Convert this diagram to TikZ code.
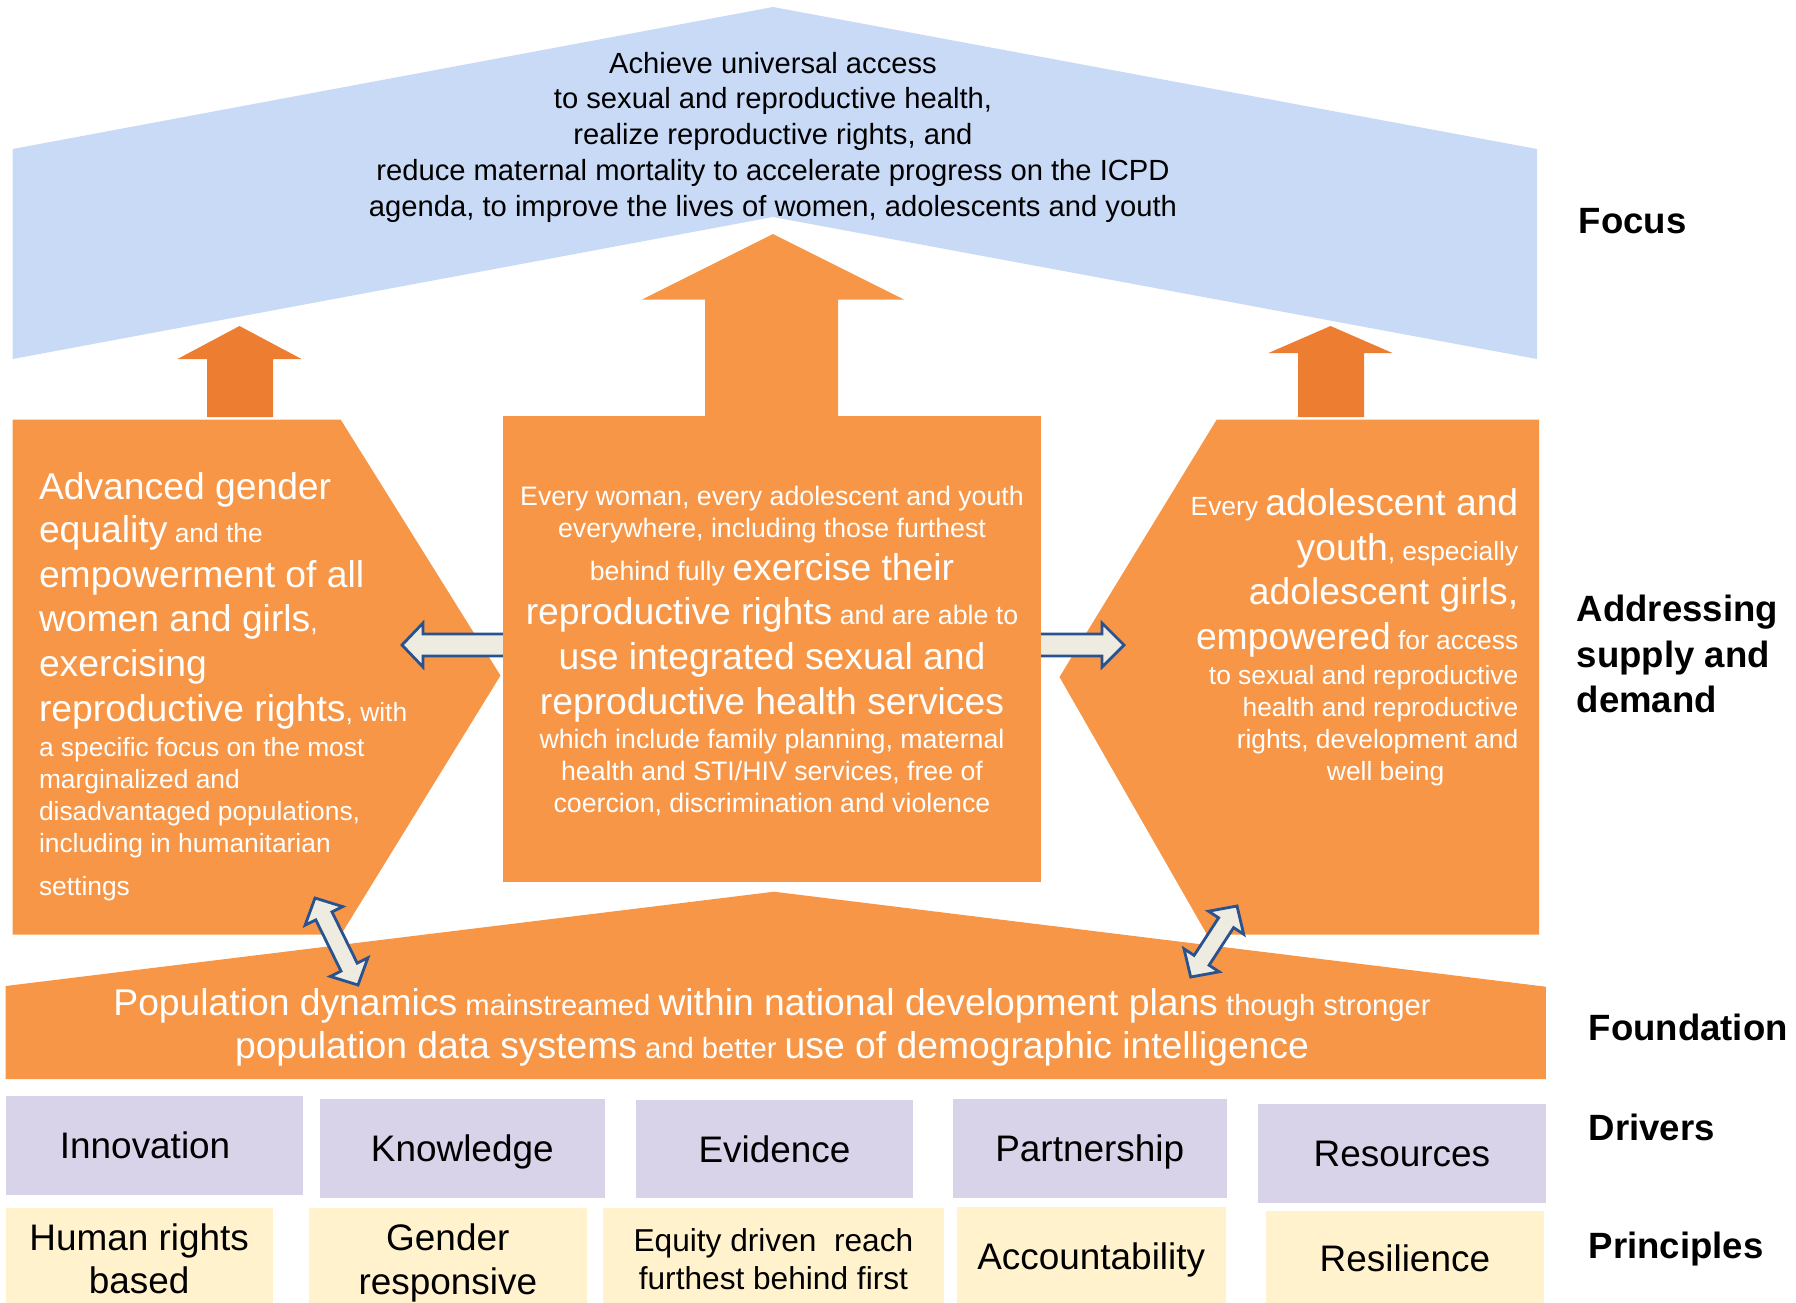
\documentclass[tikz,border=0pt]{standalone}
\usepackage{fontspec}
\setmainfont{Liberation Sans}
\usetikzlibrary{calc}
\definecolor{roofblue}{RGB}{201,218,246}
\definecolor{boxorange}{RGB}{247,150,70}
\definecolor{arroworange}{RGB}{237,125,49}
\definecolor{driverlilac}{RGB}{217,211,233}
\definecolor{principlecream}{RGB}{255,242,204}
\definecolor{linkfill}{RGB}{238,236,225}
\definecolor{linkblue}{RGB}{41,82,142}
\newcommand\bigtxt{\fontsize{10.6}{12.7}\selectfont}
\newcommand\smalltxt{\fontsize{7.5}{9.1}\selectfont}
\tikzset{%
    roof/.style={fill=roofblue},
    block/.style={fill=boxorange},
    uparrow/.style={fill=arroworange},
    link/.style={fill=linkfill,draw=linkblue,line width=0.8pt,line join=miter},
    blocktext/.style={text=white,inner sep=0pt,font={\smalltxt\lineskiplimit=-\maxdimen}},
    driver/.style={fill=driverlilac,inner sep=0pt,font=\fontsize{10.5}{12.6}\selectfont,text depth=0pt},
    principle/.style={fill=principlecream,inner sep=0pt,font=\fontsize{10.5}{12.35}\selectfont,align=center},
    layer/.style={font=\fontsize{10.4}{12.8}\selectfont\bfseries,inner sep=0pt,anchor=base west,align=left},
}

\begin{document}
\begin{tikzpicture}[x=0.01cm,y=-0.01cm]
        \clip (0,0) rectangle (1796,1302);

        \fill[roof] (12.6,149) -- (773,7) -- (1537,149) -- (1537,359) -- (773,217) -- (12.6,359) -- cycle;
        \node[anchor=base,align=center,inner sep=0pt,font=\fontsize{8.3}{10.15}\selectfont] (focustext) at (773,216)
          {Achieve universal access\\to sexual and reproductive health,\\realize reproductive rights, and\\reduce maternal mortality to accelerate progress on the ICPD\\agenda, to improve the lives of women, adolescents and youth};

        \fill[uparrow] (239.5,326) -- (301.5,359) -- (273,359) -- (273,417) -- (207,417) -- (207,359) -- (177.5,359) -- cycle;
        \fill[uparrow] (1330.5,326) -- (1392.5,353) -- (1364,353) -- (1364,417) -- (1298,417) -- (1298,353) -- (1268.5,353) -- cycle;
        \fill[block] (773,234) -- (904,299.5) -- (838,299.5) -- (838,420) -- (705,420) -- (705,299.5) -- (642,299.5) -- cycle;

        \fill[block] (12.7,419.6) -- (340.7,419.6) -- (500.5,675.5) -- (341,934.6) -- (12.7,934.6) -- cycle;
        \fill[block] (1216.7,419.6) -- (1539,419.6) -- (1539,934.6) -- (1207,934.6) -- (1059.5,677) -- cycle;

        \draw[link] (503,634) -- (423,634) -- (423,623) -- (402,645) -- (423,667) -- (423,656) -- (503,656);
        \draw[link] (1040.6,634) -- (1102,634) -- (1102,623) -- (1124,645) -- (1102,667) -- (1102,656) -- (1040.6,656);
        \fill[block] (503,416) rectangle (1040.6,882);

        \fill[block] (5.7,986) -- (774,891.7) -- (1545.8,986.7) -- (1545.8,1079) -- (5.7,1079) -- cycle;

        \draw[link] (315,898) -- (342.7,906.6) -- (332,911.9) -- (357.2,963.1) -- (367.9,957.8) -- (358,985)
          -- (330.3,976.4) -- (341,971.1) -- (315.8,919.9) -- (305.1,925.2) -- cycle;
        \draw[link] (1237,906) -- (1243.7,934.2) -- (1233.6,927.6) -- (1209.1,965.2) -- (1219.2,971.8) -- (1190.7,977)
          -- (1184,948.8) -- (1194.1,955.4) -- (1218.6,917.8) -- (1208.5,911.2) -- cycle;

        \node[blocktext,align=left,anchor=base west] (lefttext) at (38.3,895.7)
          {{\bigtxt Advanced gender}\\[3.1pt]
           {\bigtxt equality} and the\\[3.6pt]
           {\bigtxt empowerment of all}\\[3.6pt]
           {\bigtxt women and girls},\\[3.6pt]
           {\bigtxt exercising}\\[3.6pt]
           {\bigtxt reproductive rights}, with\\[1pt]
           a specific focus on the most\\
           marginalized and\\
           disadvantaged populations,\\
           including in humanitarian\\[3.1pt]
           settings};
        \node[blocktext,align=center,anchor=base,font={\fontsize{7.6}{9.1}\selectfont\lineskiplimit=-\maxdimen}] (centretext) at (772,812.7)
          {Every woman, every adolescent and youth\\
           everywhere, including those furthest\\[3pt]
           behind fully {\bigtxt exercise their}\\[3.4pt]
           {\bigtxt reproductive rights} and are able to\\[3.7pt]
           {\bigtxt use integrated sexual and}\\[3.7pt]
           {\bigtxt reproductive health services}\\[0.65pt]
           which include family planning, maternal\\
           health and STI/HIV services, free of\\
           coercion, discrimination and violence};
        \node[blocktext,align=right,anchor=base east] (righttext) at (1519,780)
          {Every {\bigtxt adolescent and}\\[3.6pt]
           {\bigtxt youth}, especially\\[3.6pt]
           {\bigtxt adolescent girls,}\\[3.6pt]
           {\bigtxt empowered} for access\\[0.7pt]
           to sexual and reproductive\\
           health and reproductive\\
           rights, development and\\
           well being\hspace*{0.74cm}};
        \node[blocktext,align=center,anchor=base,font={\fontsize{8.3}{9.1}\selectfont\lineskiplimit=-\maxdimen}] (basetext) at (772,1058.3)
          {{\bigtxt Population dynamics} mainstreamed {\bigtxt within national development plans} though stronger\\[3.2pt]
           {\bigtxt population data systems} and better {\bigtxt use of demographic intelligence}};

        \node[driver,minimum width=2.968cm,minimum height=0.99cm] (innovation) at (154.1,1145.5) {Innovation\hspace*{0.18cm}};
        \node[driver,minimum width=2.845cm,minimum height=0.987cm] (knowledge) at (462.3,1148.4) {Knowledge};
        \node[driver,minimum width=2.77cm,minimum height=0.983cm] (evidence) at (774.5,1148.9) {Evidence};
        \node[driver,minimum width=2.738cm,minimum height=0.99cm] (partnership) at (1089.7,1148.5) {Partnership};
        \node[driver,minimum width=2.878cm,minimum height=0.99cm] (resources) at (1401.9,1153.5) {Resources};

        \node[principle,minimum width=2.67cm,minimum height=1.023cm] (humanrights) at (139.2,1258.9) {Human rights\\based};
        \node[principle,minimum width=2.777cm,minimum height=1.103cm] (gender) at (447.8,1262.9) {Gender\\responsive};
        \node[principle,minimum width=3.412cm,minimum height=1.02cm,font=\fontsize{9}{10.8}\selectfont] (equity) at (773.4,1259) {Equity driven\ \ reach\\furthest behind first};
        \node[principle,minimum width=2.685cm,minimum height=0.99cm,text depth=0pt] (accountability) at (1091.2,1256.5) {Accountability};
        \node[principle,minimum width=2.783cm,minimum height=0.95cm,text depth=0pt] (resilience) at (1404.9,1258.5) {Resilience};

        \node[layer] (focus) at (1578,233) {Focus};
        \node[layer] (addressing) at (1576,712) {Addressing\\supply and\\demand};
        \node[layer] (foundation) at (1588,1040) {Foundation};
        \node[layer] (drivers) at (1588,1140) {Drivers};
        \node[layer] (principles) at (1588,1258) {Principles};
      \end{tikzpicture}
\end{document}
